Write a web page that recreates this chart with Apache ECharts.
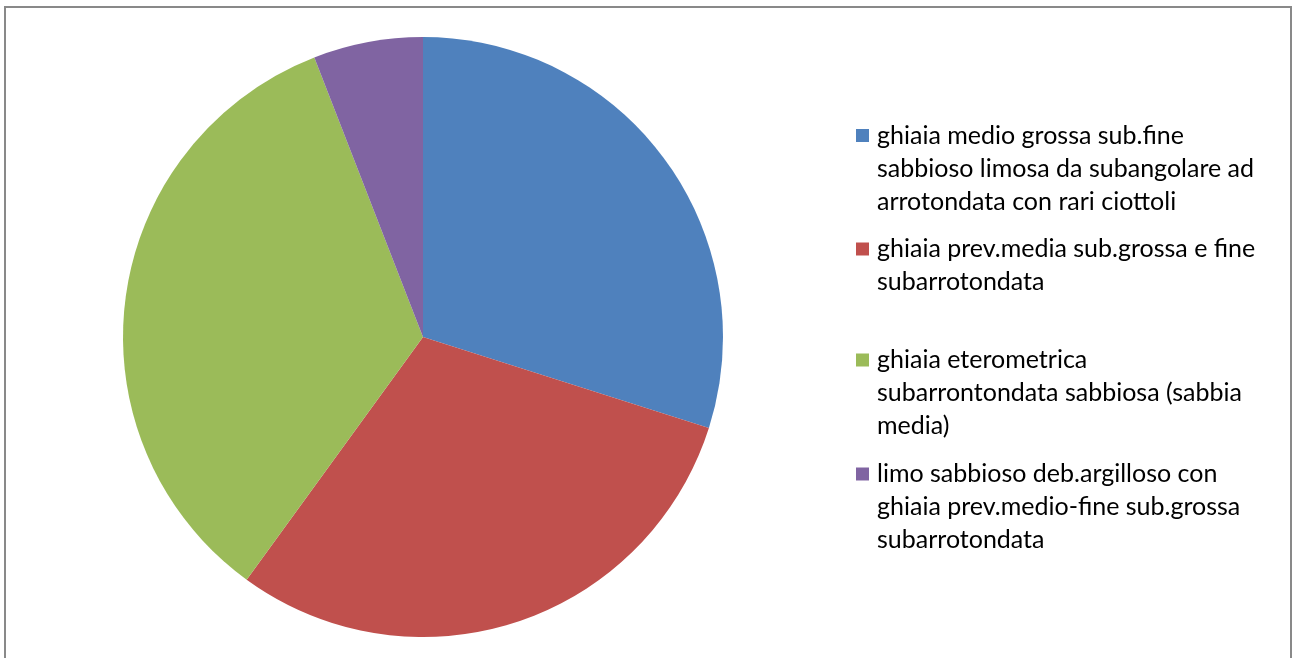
<!DOCTYPE html>
<html>
<head>
<meta charset="utf-8">
<title>Composizione litologica</title>
<script src="https://cdn.jsdelivr.net/npm/echarts@6/dist/echarts.min.js"></script>
<style>
  html, body { margin: 0; padding: 0; background: #ffffff; }
  #chart { width: 1292px; height: 658px; }
</style>
</head>
<body>
<div id="chart"></div>
<script>
// Lithology classes (legend text, wrapped as shown) and their shares
const categories = [
  'ghiaia medio grossa sub.fine\nsabbioso limosa da subangolare ad\narrotondata con rari ciottoli',
  'ghiaia prev.media sub.grossa e fine\nsubarrotondata',
  'ghiaia eterometrica\nsubarrontondata sabbiosa (sabbia\nmedia)',
  'limo sabbioso deb.argilloso con\nghiaia prev.medio-fine sub.grossa\nsubarrotondata'
];
const values = [29.9, 30.1, 34.1, 5.9];
const colors = ['#4F81BD', '#C0504D', '#9BBB59', '#8064A2'];

// Legend layout: centre of the first text line of each entry
const legendRowCentres = [135.5, 249, 360, 474];
const LINE_H = 33;

const chart = echarts.init(document.getElementById('chart'), null, { renderer: 'canvas' });

const legends = categories.map((name, i) => {
  const lines = name.split('\n').length;
  return {
    orient: 'vertical',
    left: 856,
    // legend text is centred on its marker; blank lead-in lines put the
    // first real line level with the marker, so the box spans 2n-1 lines
    top: legendRowCentres[i] - (2 * lines - 1) * LINE_H / 2,
    padding: 0,
    itemWidth: 13,
    itemHeight: 13,
    icon: 'rect',
    selectedMode: false,
    data: [name],
    formatter: function (n) {
      return '\n'.repeat(lines - 1) + n;
    },
    textStyle: {
      fontFamily: 'Lato',
      fontSize: 25,
      color: '#000000',
      lineHeight: LINE_H,
      padding: [0, 0, 0, 3]
    }
  };
});

chart.setOption({
  animation: false,
  color: colors,
  legend: legends,
  graphic: [{
    type: 'rect',
    shape: { x: 5, y: 7, width: 1286, height: 700 },
    style: { fill: 'none', stroke: '#898989', lineWidth: 2 },
    silent: true
  }],
  series: [{
    type: 'pie',
    center: [423, 337],
    radius: [0, 300],
    startAngle: 90,
    clockwise: true,
    label: { show: false },
    labelLine: { show: false },
    itemStyle: { borderWidth: 0 },
    emphasis: { disabled: true },
    data: categories.map((name, i) => ({ name: name, value: values[i] }))
  }]
});
</script>
</body>
</html>
